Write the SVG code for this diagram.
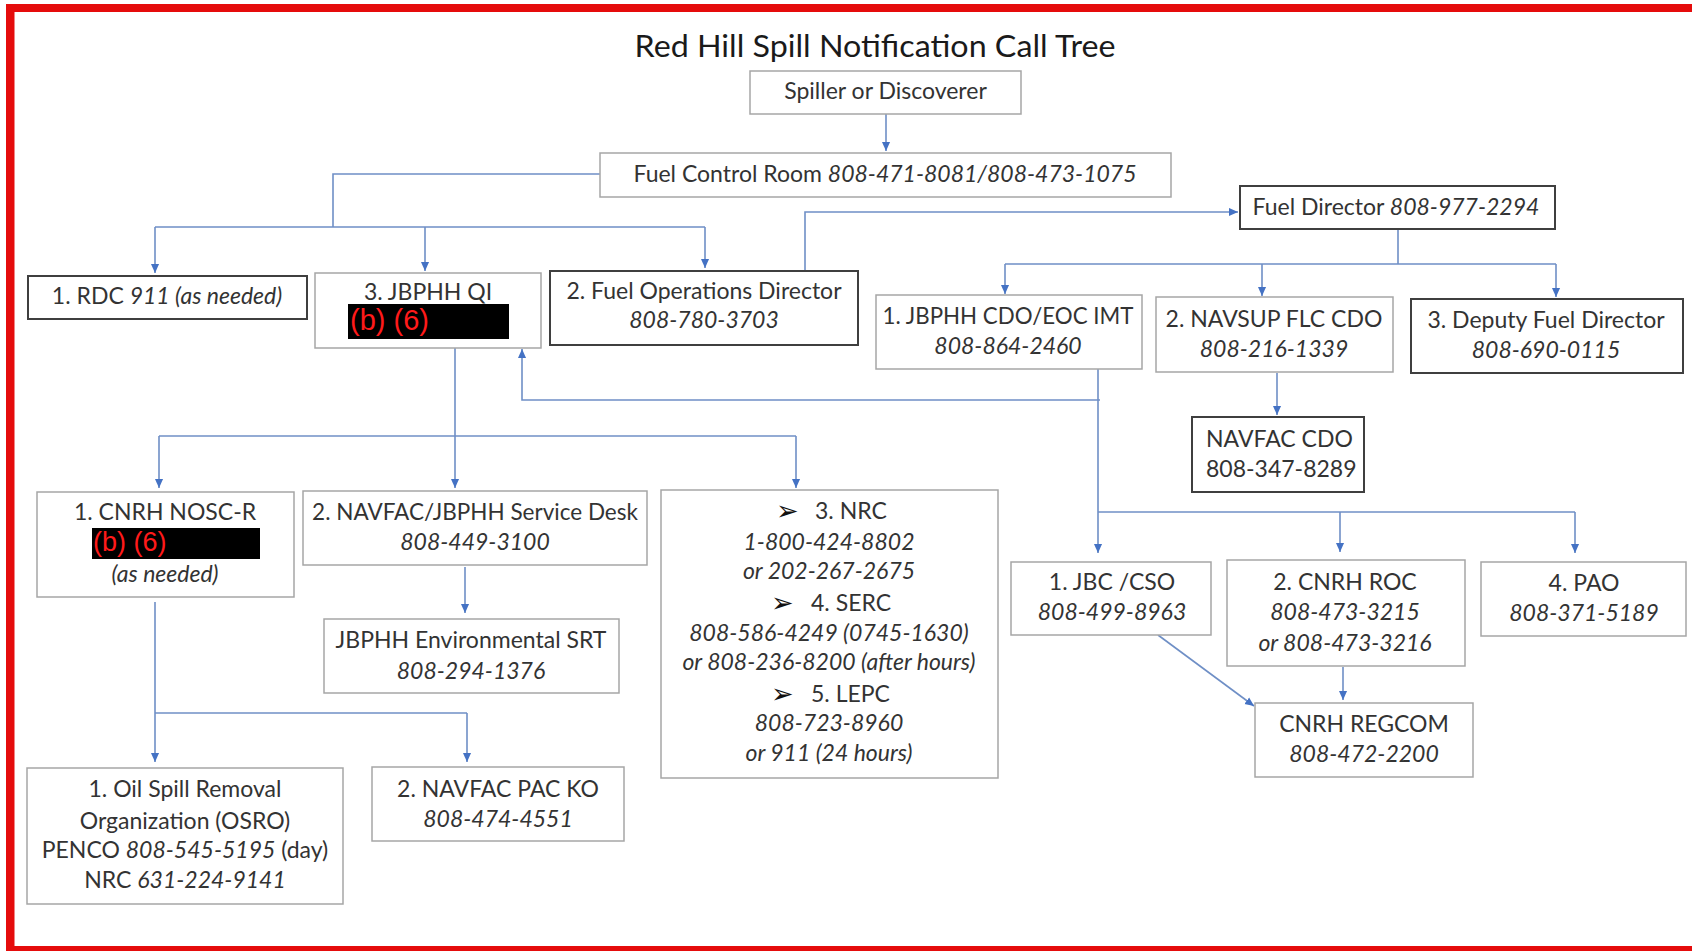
<svg xmlns="http://www.w3.org/2000/svg" width="1692" height="951" viewBox="0 0 1692 951">
<style>
.b{fill:#fff;stroke:#a6a6a6;stroke-width:1.5}
.bd{fill:#fff;stroke:#3f3f3f;stroke-width:2}
.t{font-family:Lato,"Liberation Sans",sans-serif;font-size:23px;fill:#333;text-anchor:middle}
.l{text-anchor:start}
.i{font-style:italic}
.c{fill:none;stroke:#6f8fc6;stroke-width:1.6}
.a{marker-end:url(#ah)}
.red{font-family:"Liberation Sans",Arial,sans-serif;font-size:29px;fill:#ff1a1a}
.bul{font-family:"DejaVu Sans",sans-serif;font-size:27px;fill:#111}
</style>
<defs>
<marker id="ah" viewBox="0 0 10 10" refX="10" refY="5" markerWidth="9" markerHeight="9" orient="auto" markerUnits="userSpaceOnUse">
<path d="M0,0.5 L10,5 L0,9.5 z" fill="#4472c4"/>
</marker>
</defs>
<rect x="0" y="0" width="1692" height="951" fill="#fff"/>
<g id="frame" fill="#e50c0c">
<rect x="6" y="4" width="1686" height="8"/>
<rect x="6" y="4" width="8.5" height="947"/>
<rect x="6" y="946" width="1686" height="5"/>
</g>
<text x="875" y="57" class="t" style="font-size:31px;fill:#1a1a1a" textLength="481" lengthAdjust="spacingAndGlyphs">Red Hill Spill Notification Call Tree</text>

<g id="connectors">
<path class="c a" d="M886 114 V151"/>
<path class="c" d="M600 174 H333 V227 M155 227 H705"/>
<path class="c a" d="M155 227 V273"/>
<path class="c a" d="M425 227 V271"/>
<path class="c a" d="M705 227 V268"/>
<path class="c a" d="M805 270 V212 H1238"/>
<path class="c" d="M1398 229 V264 M1005 264 H1556"/>
<path class="c a" d="M1005 264 V294"/>
<path class="c a" d="M1262 264 V296"/>
<path class="c a" d="M1556 264 V297"/>
<path class="c a" d="M1277 373 V415"/>
<path class="c a" d="M1098 369 V553"/>
<path class="c a" d="M1100 400 H522 V349"/>
<path class="c" d="M1098 512 H1575"/>
<path class="c a" d="M1340 512 V552"/>
<path class="c a" d="M1575 512 V553"/>
<path class="c a" d="M455 348 V488"/>
<path class="c" d="M159 436 H796"/>
<path class="c a" d="M159 436 V488"/>
<path class="c a" d="M796 436 V488"/>
<path class="c a" d="M465 567 V613"/>
<path class="c a" d="M155 602 V762"/>
<path class="c" d="M155 713 H467"/>
<path class="c a" d="M467 713 V762"/>
<path class="c a" d="M1343 667 V700"/>
<path class="c a" d="M1158 635 L1254 706"/>
</g>

<g id="spiller"><rect class="b" x="750" y="71" width="271" height="43"/><text class="t" x="885.5" y="99">Spiller or Discoverer</text></g>
<g id="fcr"><rect class="b" x="600" y="153" width="571" height="44"/><text class="t" x="885" y="182">Fuel Control Room <tspan class="i">808-471-8081/808-473-1075</tspan></text></g>
<g id="rdc"><rect class="bd" x="28" y="276" width="279" height="43"/><text class="t" x="167" y="304">1. RDC <tspan class="i">911 (as needed)</tspan></text></g>
<g id="qi"><rect class="b" x="315" y="273" width="226" height="75"/><text class="t" x="428" y="300">3. JBPHH QI</text><rect x="348" y="304" width="161" height="35" fill="#000"/><text class="red" x="350" y="330">(b) (6)</text></g>
<g id="fod"><rect class="bd" x="550" y="271" width="308" height="74"/><text class="t" x="704" y="299">2. Fuel Operations Director</text><text class="t i" x="704" y="328">808-780-3703</text></g>
<g id="fd"><rect class="bd" x="1240" y="186" width="315" height="43"/><text class="t" x="1396" y="215">Fuel Director <tspan class="i">808-977-2294</tspan></text></g>
<g id="cdo"><rect class="b" x="876" y="295" width="266" height="74"/><text class="t" x="1008" y="324" style="font-size:22.3px">1. JBPHH CDO/EOC IMT</text><text class="t i" x="1008" y="354">808-864-2460</text></g>
<g id="navsup"><rect class="b" x="1156" y="297" width="237" height="75"/><text class="t" x="1274" y="327">2. NAVSUP FLC CDO</text><text class="t i" x="1274" y="357">808-216-1339</text></g>
<g id="deputy"><rect class="bd" x="1411" y="299" width="272" height="74"/><text class="t" x="1546" y="328">3. Deputy Fuel Director</text><text class="t i" x="1546" y="358">808-690-0115</text></g>
<g id="navfaccdo"><rect class="bd" x="1192" y="417" width="172" height="75"/><text class="t l" x="1206" y="447">NAVFAC CDO</text><text class="t l" x="1206" y="477">808-347-8289</text></g>
<g id="nosc"><rect class="b" x="37" y="492" width="257" height="105"/><text class="t" x="165" y="520">1. CNRH NOSC-R</text><rect x="92" y="528" width="168" height="31" fill="#000"/><text class="red" x="93" y="551" style="font-size:27px">(b) (6)</text><text class="t i" x="165" y="582">(as needed)</text></g>
<g id="servicedesk"><rect class="b" x="303" y="491" width="344" height="74"/><text class="t" x="475" y="520" style="font-size:22.5px">2. NAVFAC/JBPHH Service Desk</text><text class="t i" x="475" y="550">808-449-3100</text></g>
<g id="srt"><rect class="b" x="324" y="619" width="295" height="74"/><text class="t" x="471" y="648">JBPHH Environmental SRT</text><text class="t i" x="471" y="679">808-294-1376</text></g>
<g id="osro"><rect class="b" x="27" y="768" width="316" height="136"/><text class="t" x="185" y="797">1. Oil Spill Removal</text><text class="t" x="185" y="829">Organization (OSRO)</text><text class="t" x="185" y="858">PENCO <tspan class="i">808-545-5195</tspan> (day)</text><text class="t" x="185" y="888">NRC <tspan class="i">631-224-9141</tspan></text></g>
<g id="packo"><rect class="b" x="372" y="767" width="252" height="74"/><text class="t" x="498" y="797">2. NAVFAC PAC KO</text><text class="t i" x="498" y="827">808-474-4551</text></g>
<g id="nrc"><rect class="b" x="661" y="490" width="337" height="288"/>
<text class="bul" x="776" y="520">➢</text><text class="t l" x="815" y="519">3. NRC</text>
<text class="t i" x="829" y="550">1-800-424-8802</text>
<text class="t i" x="829" y="579">or 202-267-2675</text>
<text class="bul" x="771" y="612">➢</text><text class="t l" x="811" y="611">4. SERC</text>
<text class="t i" x="829" y="641">808-586-4249 (0745-1630)</text>
<text class="t i" x="829" y="670">or 808-236-8200 (after hours)</text>
<text class="bul" x="771" y="703">➢</text><text class="t l" x="811" y="702">5. LEPC</text>
<text class="t i" x="829" y="731">808-723-8960</text>
<text class="t i" x="829" y="761">or 911 (24 hours)</text></g>
<g id="jbc"><rect class="b" x="1011" y="562" width="200" height="73"/><text class="t" x="1112" y="590">1. JBC /CSO</text><text class="t i" x="1112" y="620">808-499-8963</text></g>
<g id="roc"><rect class="b" x="1227" y="560" width="238" height="106"/><text class="t" x="1345" y="590">2. CNRH ROC</text><text class="t i" x="1345" y="620">808-473-3215</text><text class="t i" x="1345" y="651">or 808-473-3216</text></g>
<g id="pao"><rect class="b" x="1481" y="562" width="205" height="74"/><text class="t" x="1584" y="591">4. PAO</text><text class="t i" x="1584" y="621">808-371-5189</text></g>
<g id="regcom"><rect class="b" x="1255" y="703" width="218" height="74"/><text class="t" x="1364" y="732">CNRH REGCOM</text><text class="t i" x="1364" y="762">808-472-2200</text></g>
</svg>
